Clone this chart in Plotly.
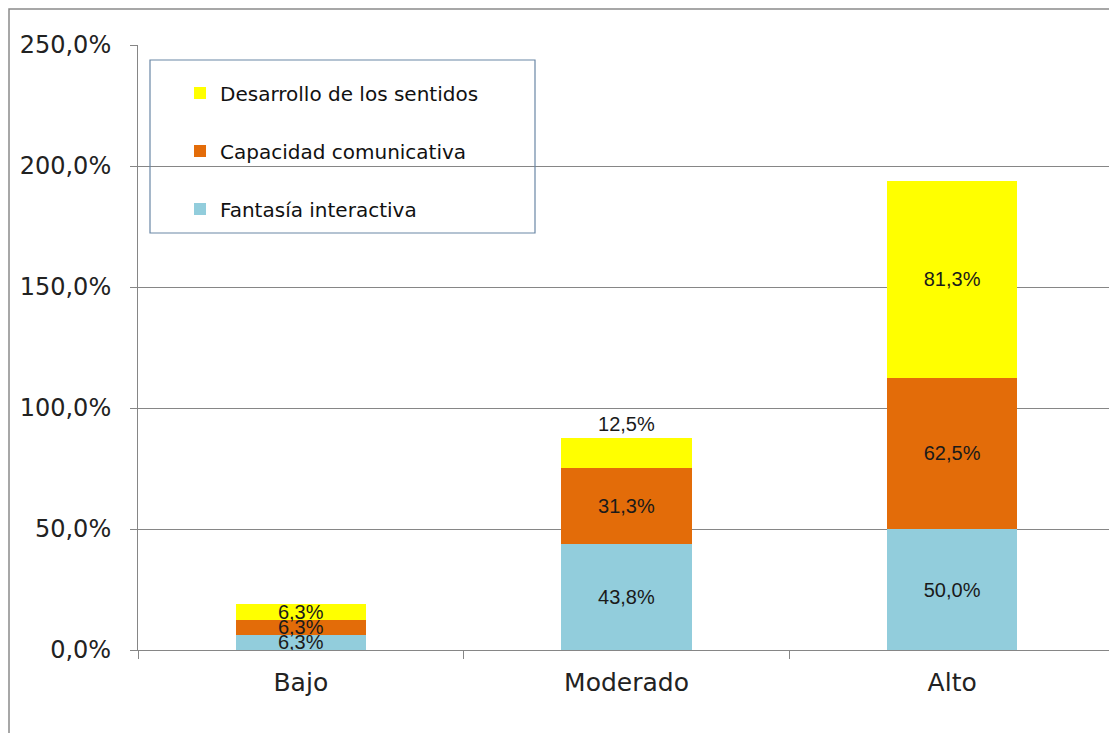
import plotly.graph_objects as go

categories = ["Bajo", "Moderado", "Alto"]
fantasia = [6.3, 43.8, 50.0]
capacidad = [6.3, 31.3, 62.5]
desarrollo = [6.3, 12.5, 81.3]
tick_vals = [0, 50, 100, 150, 200, 250]
tick_text = ["0,0%", "50,0%", "100,0%", "150,0%", "200,0%", "250,0%"]

label_font = dict(family="Liberation Sans, Arial", size=20, color="#1a1a1a")

fig = go.Figure()
fig.add_trace(go.Bar(
    x=categories, y=fantasia, name="Fantasía interactiva",
    marker=dict(color="#92CDDC", line=dict(width=0)),
    texttemplate="%{y:.1f}%", textposition="inside", insidetextanchor="middle",
    constraintext="none", textfont=label_font, legendgroup="a", legendrank=3,
))
fig.add_trace(go.Bar(
    x=categories, y=capacidad, name="Capacidad comunicativa",
    marker=dict(color="#E36C09", line=dict(width=0)),
    texttemplate="%{y:.1f}%", textposition="inside", insidetextanchor="middle",
    constraintext="none", textfont=label_font, legendgroup="b", legendrank=2,
))
fig.add_trace(go.Bar(
    x=categories, y=desarrollo, name="Desarrollo de los sentidos",
    marker=dict(color="#FFFF00", line=dict(width=0)),
    texttemplate="%{y:.1f}%", textposition=["inside", "outside", "inside"],
    insidetextanchor="middle", constraintext="none", cliponaxis=False,
    textfont=label_font, legendgroup="c", legendrank=1,
))

fig.update_layout(
    width=1109, height=725,
    barmode="stack", bargap=0.6,
    separators=",.",
    paper_bgcolor="white", plot_bgcolor="white",
    margin=dict(l=130, r=2, t=37, b=83),
    font=dict(family="DejaVu Sans, Verdana", size=20, color="#222222"),
    legend=dict(
        x=0.043, y=0.953, xanchor="left", yanchor="top",
        traceorder="grouped", tracegroupgap=29,
        bgcolor="rgba(0,0,0,0)", borderwidth=0,
        font=dict(family="DejaVu Sans, Verdana", size=20, color="#111111"),
        itemwidth=30,
    ),
    xaxis=dict(
        showgrid=False, showline=True, linecolor="#868686", linewidth=1,
        ticks="outside", ticklen=8, tickcolor="#868686", tickson="boundaries",
        ticklabelstandoff=10,
        tickfont=dict(family="DejaVu Sans, Verdana", size=25, color="#222222"),
    ),
    yaxis=dict(
        range=[0, 250], tickvals=tick_vals, ticktext=tick_text,
        showgrid=True, gridcolor="#868686", gridwidth=1,
        showline=True, linecolor="#868686", linewidth=1,
        ticks="outside", ticklen=7, tickcolor="#868686",
        ticklabelstandoff=14,
        tickfont=dict(family="DejaVu Sans, Verdana", size=24, color="#222222"),
        zeroline=False,
    ),
    shapes=[
        dict(type="rect", xref="paper", yref="paper",
             x0=12 / 977, x1=397 / 977, y0=1 - 188 / 605, y1=1 - 15 / 605,
             line=dict(color="#6a87a6", width=1.2), fillcolor="rgba(0,0,0,0)"),
        dict(type="rect", xref="paper", yref="paper",
             x0=-129 / 977, x1=1.05, y0=-0.2, y1=1 + 36 / 605,
             line=dict(color="#8a8a8a", width=1.5), fillcolor="rgba(0,0,0,0)",
             layer="below"),
    ],
)

fig.write_html("out.html")
